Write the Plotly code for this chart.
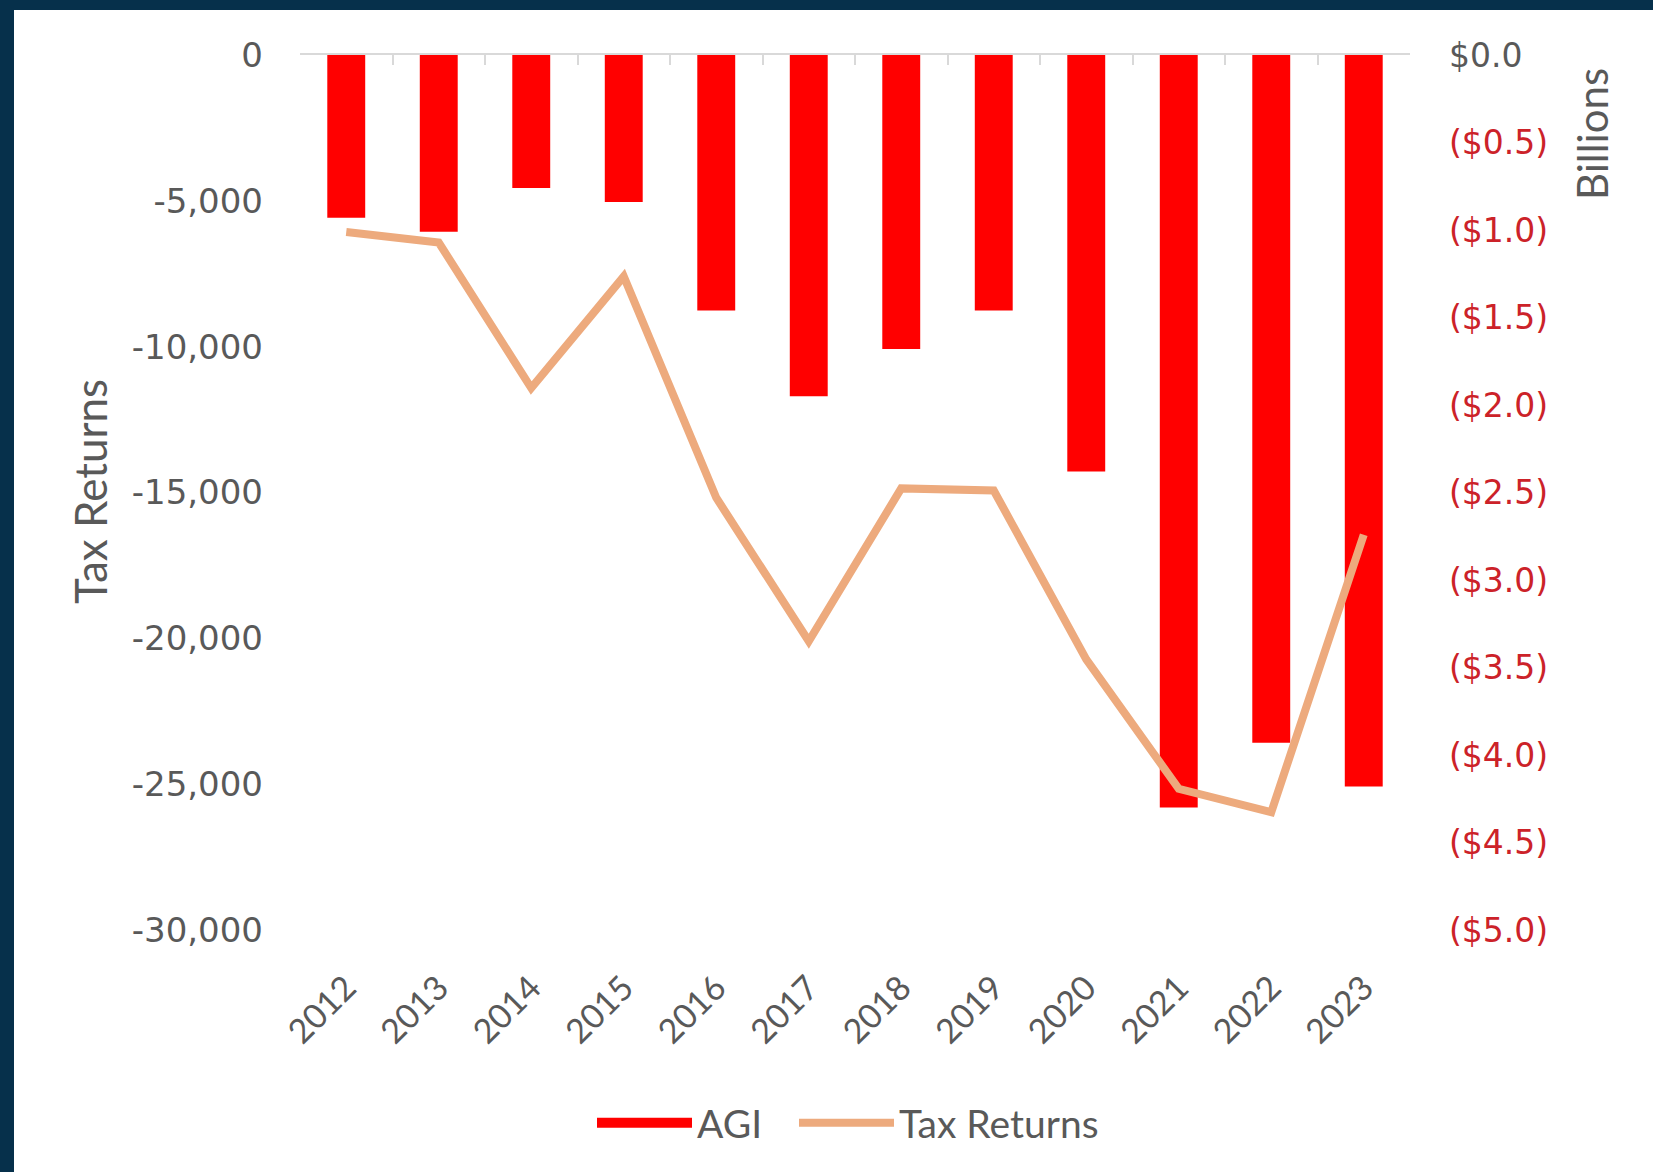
import plotly.graph_objects as go

# ---- data ----
years = ["2012", "2013", "2014", "2015", "2016", "2017",
         "2018", "2019", "2020", "2021", "2022", "2023"]
agi_billions = [-0.93, -1.01, -0.76, -0.84, -1.46, -1.95,
                -1.68, -1.46, -2.38, -4.30, -3.93, -4.18]
tax_returns = [-6070, -6430, -11420, -7590, -15180, -20100,
               -14860, -14930, -20720, -25160, -25960, -16450]

left_tickvals = [0, -5000, -10000, -15000, -20000, -25000, -30000]
left_ticktext = ["0", "-5,000", "-10,000", "-15,000", "-20,000", "-25,000", "-30,000"]
right_tickvals = [0, -0.5, -1.0, -1.5, -2.0, -2.5, -3.0, -3.5, -4.0, -4.5, -5.0]
right_ticktext = ["$0.0", "($0.5)", "($1.0)", "($1.5)", "($2.0)", "($2.5)",
                  "($3.0)", "($3.5)", "($4.0)", "($4.5)", "($5.0)"]

# ---- styles ----
W, H = 1653, 1172
ML, MR, MT, MB = 300, 243, 55, 242
PW, PH = W - ML - MR, H - MT - MB
BORDER = "#06304B"
GRAY = "#595959"
NEG_RED = "#CC2229"
BAR_RED = "#FF0000"
LINE_COL = "#EDAA7D"
NUM_FONT = "DejaVu Sans"
TXT_FONT = "Lato"

right_ticktext_col = [
    t if v == 0 else f'<span style="color:{NEG_RED}">{t}</span>'
    for t, v in zip(right_ticktext, right_tickvals)
]

fig = go.Figure()
fig.add_trace(go.Bar(
    x=years, y=agi_billions, name="AGI", legendgroup="agi", showlegend=False,
    marker=dict(color=BAR_RED, line=dict(width=0)),
    xaxis="x", yaxis="y",
))
# legend-only entry giving the wide red swatch of the original
fig.add_trace(go.Scatter(
    x=[None], y=[None], name="AGI", legendgroup="agi", mode="lines",
    line=dict(color=BAR_RED, width=22), xaxis="x", yaxis="y",
    hoverinfo="skip", legend="legend",
))
fig.add_trace(go.Scatter(
    x=years, y=tax_returns, name="Tax Returns", mode="lines",
    line=dict(color=LINE_COL, width=8),
    xaxis="x2", yaxis="y2", legend="legend2",
))

def px_x(p):
    return (p - ML) / PW

def px_y(p):
    return (H - MB - p) / PH

legend_style = dict(
    orientation="h", xanchor="left", yanchor="middle", y=px_y(1123),
    font=dict(family=TXT_FONT, size=39, color=GRAY),
    bgcolor="rgba(0,0,0,0)", itemwidth=95,
)

fig.update_layout(
    width=W, height=H,
    margin=dict(l=ML, r=MR, t=MT, b=MB),
    paper_bgcolor=BORDER,
    plot_bgcolor="rgba(0,0,0,0)",
    bargap=0.59,
    showlegend=True,
    legend=dict(x=px_x(592), **legend_style),
    legend2=dict(x=px_x(794), **legend_style),
    xaxis=dict(
        type="category", anchor="y", side="bottom",
        showline=False, showgrid=False, zeroline=False, ticks="",
        tickangle=-45, ticklabelstandoff=30,
        tickfont=dict(family=TXT_FONT, size=34, color=GRAY),
    ),
    xaxis2=dict(
        type="category", overlaying="x", matches="x", anchor="y2", side="top",
        showline=True, linecolor="#D9D9D9", linewidth=2,
        ticks="inside", tickson="boundaries", ticklen=10, tickcolor="#D9D9D9",
        tickwidth=2, showticklabels=False, showgrid=False, zeroline=False,
    ),
    yaxis=dict(
        side="right", range=[-5, 0], showgrid=False, zeroline=False,
        showline=False, ticks="",
        tickmode="array", tickvals=right_tickvals, ticktext=right_ticktext_col,
        tickfont=dict(family=NUM_FONT, size=33, color=GRAY),
        ticklabelstandoff=38,
    ),
    yaxis2=dict(
        side="left", overlaying="y", anchor="x2", range=[-30000, 0],
        showgrid=False, zeroline=False, showline=False, ticks="",
        tickmode="array", tickvals=left_tickvals, ticktext=left_ticktext,
        tickfont=dict(family=NUM_FONT, size=34, color=GRAY),
        ticklabelstandoff=36,
    ),
    shapes=[dict(
        type="rect", xref="paper", yref="paper", layer="below",
        x0=px_x(14), x1=px_x(W + 20), y0=px_y(H + 20), y1=px_y(10),
        fillcolor="white", line=dict(width=0),
    )],
    annotations=[
        dict(text="Tax Returns", xref="paper", yref="paper",
             x=px_x(90), y=px_y(492), xanchor="center", yanchor="middle",
             textangle=-90, showarrow=False,
             font=dict(family=TXT_FONT, size=44, color=GRAY)),
        dict(text="Billions", xref="paper", yref="paper",
             x=px_x(1592), y=px_y(134), xanchor="center", yanchor="middle",
             textangle=-90, showarrow=False,
             font=dict(family=TXT_FONT, size=42, color=GRAY)),
    ],
)

fig.write_html(
    "out.html",
    config={"displayModeBar": False},
    post_script="document.body.style.margin='0';document.body.style.overflow='hidden';",
)
